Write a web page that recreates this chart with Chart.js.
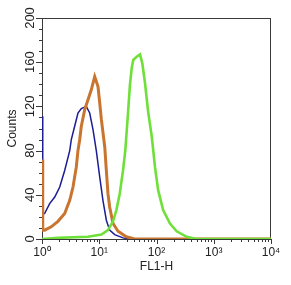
<!DOCTYPE html>
<html>
<head>
<meta charset="utf-8">
<script src="https://cdn.jsdelivr.net/npm/chart.js@4"></script>
<style>
  html, body { margin: 0; padding: 0; background: #fff; }
  #wrap { width: 291px; height: 285px; position: relative; }
</style>
</head>
<body>
<div id="wrap"><canvas id="myChart"></canvas></div>
<script>
// FL1-H histogram
const blueFL = [1, 1.03, 1.03, 1.11, 1.36, 1.67, 2.04, 2.49, 3.05, 3.25, 3.72, 4.25, 4.86, 5.94, 6.81, 7.78, 8.88, 10.2, 11.6, 13.3, 15.2, 18.6, 26, 34, 10000];
const blueCounts = [111, 111, 23, 23, 32, 38, 47, 62, 80, 90, 102, 114, 118, 120, 114, 99, 80, 56, 35, 17, 8, 4, 1, 0, 0];

const orangeFL = [1, 1.03, 1.03, 1.11, 1.45, 1.9, 2.49, 3.05, 3.48, 3.97, 4.25, 4.56, 4.86, 5.57, 6.36, 7.26, 8.33, 9.51, 10.2, 10.9, 12.5, 13.3, 14.2, 15.2, 17.4, 21.3, 29.7, 41.6, 10000];
const orangeCounts = [72, 72, 8, 8, 11, 16, 23, 35, 47, 65, 80, 90, 102, 117, 126, 135, 147, 138, 123, 108, 83, 62, 41, 29, 14, 7, 2, 0, 0];

const greenFL = [1, 1.9, 6.36, 10.9, 14.2, 17.4, 19.9, 22.8, 26, 28.5, 31.8, 34.4, 37, 39.3, 45.1, 51.5, 56.5, 63, 71.9, 82.5, 94.2, 107, 131, 172, 225, 337, 504, 10000];
const greenCounts = [0, 1, 2, 4, 8, 16, 26, 41, 62, 80, 114, 140, 155, 162, 165, 167, 159, 141, 114, 93, 65, 44, 26, 14, 7, 2, 0, 0];

const yTicks = [0, 40, 80, 120, 160, 200];
const yMinor = 10;
const decades = [0, 1, 2, 3, 4];
const sup = ['\u2070', '\u00b9', '\u00b2', '\u00b3', '\u2074'];

function pairs(xs, ys) {
     return xs.map((x, i) => ({ x: x, y: ys[i] }));
}

// box round the plot plus minor/major tick marks, drawn under the curves
const frame = {
     id: 'frame',
     beforeDatasetsDraw(chart) {
          const ctx = chart.ctx;
          const a = chart.chartArea;
          const xs = chart.scales.x;
          const ys = chart.scales.y;
          ctx.save();
          ctx.strokeStyle = '#3a3a3a';
          ctx.lineWidth = 1;
          ctx.strokeRect(a.left + 0.5, a.top + 0.5, a.right - a.left - 1, a.bottom - a.top);
          ctx.beginPath();
          for (let v = yTicks[0]; v <= yTicks[yTicks.length - 1]; v += yMinor) {
               const py = Math.round(ys.getPixelForValue(v)) + 0.5;
               const len = yTicks.includes(v) ? 6 : 3;
               ctx.moveTo(a.left - len, py);
               ctx.lineTo(a.left, py);
          }
          decades.forEach(d => {
               for (let m = 1; m <= 9; m++) {
                    if (d === 4 && m > 1) break;
                    const px = Math.round(xs.getPixelForValue(m * Math.pow(10, d))) + 0.5;
                    const len = m === 1 ? 5 : 3;
                    ctx.moveTo(px, a.bottom);
                    ctx.lineTo(px, a.bottom + len);
               }
          });
          ctx.stroke();
          ctx.restore();
     }
};

const data = {
     datasets: [
          {
               data: pairs(greenFL, greenCounts),
               borderColor: '#6fe03a',
               borderWidth: 2.6
          },
          {
               data: pairs(orangeFL, orangeCounts),
               borderColor: '#c9742f',
               borderWidth: 3
          },
          {
               data: pairs(blueFL, blueCounts),
               borderColor: '#1d1d96',
               borderWidth: 1.5
          }
     ]
};

const config = {
     type: 'line',
     data: data,
     options: {
          responsive: true,
          maintainAspectRatio: false,
          animation: false,
          layout: { padding: { top: 18, right: 20, left: 0, bottom: 0 } },
          elements: { point: { radius: 0 }, line: { tension: 0 } },
          plugins: { legend: { display: false }, tooltip: { enabled: false } },
          scales: {
               x: {
                    type: 'logarithmic',
                    min: 1,
                    max: 10000,
                    afterFit: s => { s.height = 46; },
                    grid: { display: false, drawTicks: false },
                    border: { display: false },
                    ticks: {
                         autoSkip: false,
                         maxRotation: 0,
                         padding: 6,
                         color: '#222',
                         font: { family: 'Liberation Sans, Arial', size: 12 },
                         callback: v => {
                              const n = Math.log10(v);
                              return Math.abs(n - Math.round(n)) < 1e-9 ? '10' + sup[Math.round(n)] : '';
                         }
                    },
                    title: {
                         display: true,
                         text: 'FL1-H',
                         color: '#222',
                         font: { family: 'Liberation Sans, Arial', size: 12 },
                         padding: { top: 0, bottom: 11 }
                    }
               },
               y: {
                    min: 0,
                    max: 200,
                    afterFit: s => { s.width = 42; },
                    grid: { display: false, drawTicks: false },
                    border: { display: false },
                    ticks: {
                         stepSize: 40,
                         minRotation: 90,
                         maxRotation: 90,
                         crossAlign: 'center',
                         padding: 1,
                         color: '#222',
                         font: { family: 'Liberation Sans, Arial', size: 13 }
                    },
                    title: {
                         display: true,
                         text: 'Counts',
                         color: '#222',
                         font: { family: 'Liberation Sans, Arial', size: 12 },
                         padding: { top: 5, bottom: 0 }
                    }
               }
          }
     },
     plugins: [frame]
};

const myChart = new Chart(document.getElementById('myChart'), config);
</script>
</body>
</html>
